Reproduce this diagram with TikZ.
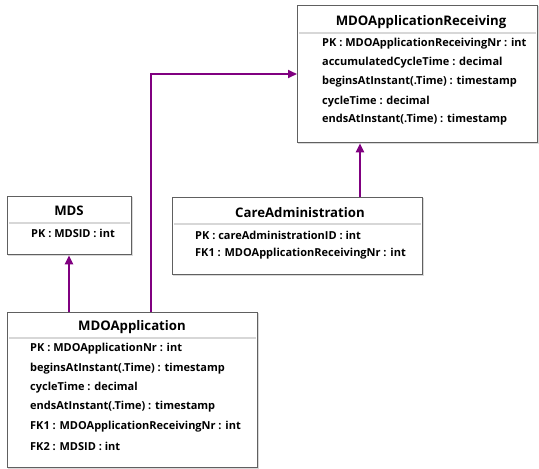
\documentclass[tikz,border=0pt]{standalone}
\usepackage{fontspec}
\setmainfont{Open Sans}
\usetikzlibrary{arrows.meta,calc}
\definecolor{fkpurple}{RGB}{128,0,128}
\definecolor{boxline}{RGB}{96,96,96}
\definecolor{sepline}{RGB}{215,215,215}
\tikzset{
  entity/.style={draw=boxline, line width=1.3pt, fill=white, rectangle, anchor=north west, inner sep=0pt},
  shade/.style={draw=black!15, line width=1.3pt},
  title/.style={font=\fontsize{13.2}{15}\selectfont\bfseries, anchor=center, inner sep=0pt},
  attr/.style={font=\fontsize{11}{13}\selectfont\bfseries, anchor=west, inner sep=0pt},
  sep/.style={draw=sepline, line width=1.6pt},
  conn/.style={draw=fkpurple, line width=2pt, -{Triangle[length=9pt,width=8pt]}}
}
\begin{document}
\begin{tikzpicture}[x=1pt,y=-1pt]
\useasboundingbox (0,0) rectangle (539,469);

% MDOApplicationReceiving
\draw[shade] (298.5,6.5) rectangle (539,143.5);
\node[entity, minimum width=240pt, minimum height=137pt] (rcv) at (297,5) {};
\node[title] (rcvT) at (421,22) {MDOApplicationReceiving};
\draw[sep] ($(rcv.north west)+(2,28)$) -- ($(rcv.north east)+(-2,28)$);
\node[attr] (rcv1) at (322,44) {PK : MDOApplicationReceivingNr : int};
\node[attr] (rcv2) at (322,63) {accumulatedCycleTime : decimal};
\node[attr] (rcv3) at (322,82) {beginsAtInstant(.Time) : timestamp};
\node[attr] (rcv4) at (322,102) {cycleTime : decimal};
\node[attr] (rcv5) at (322,120) {endsAtInstant(.Time) : timestamp};

% MDS
\draw[shade] (8.5,197.5) rectangle (132.5,255.5);
\node[entity, minimum width=124pt, minimum height=58pt] (mds) at (7,196) {};
\node[title] (mdsT) at (69,211) {MDS};
\draw[sep] ($(mds.north west)+(2,27)$) -- ($(mds.north east)+(-2,27)$);
\node[attr] (mds1) at (31,233) {PK : MDSID : int};

% CareAdministration
\draw[shade] (173.5,198.5) rectangle (423.5,275.5);
\node[entity, minimum width=250pt, minimum height=77pt] (care) at (172,197) {};
\node[title] (careT) at (300,213) {CareAdministration};
\draw[sep] ($(care.north west)+(2,27)$) -- ($(care.north east)+(-2,27)$);
\node[attr] (care1) at (195,235) {PK : careAdministrationID : int};
\node[attr] (care2) at (195,254) {FK1 : MDOApplicationReceivingNr : int};

% MDOApplication
\draw[shade] (8.5,313.5) rectangle (258.5,468.5);
\node[entity, minimum width=250pt, minimum height=155pt] (app) at (7,312) {};
\node[title] (appT) at (132,327) {MDOApplication};
\draw[sep] ($(app.north west)+(2,26)$) -- ($(app.north east)+(-2,26)$);
\node[attr] (app1) at (30,349) {PK : MDOApplicationNr : int};
\node[attr] (app2) at (30,369) {beginsAtInstant(.Time) : timestamp};
\node[attr] (app3) at (30,388) {cycleTime : decimal};
\node[attr] (app4) at (30,407) {endsAtInstant(.Time) : timestamp};
\node[attr] (app5) at (30,427) {FK1 : MDOApplicationReceivingNr : int};
\node[attr] (app6) at (30,446) {FK2 : MDSID : int};

% foreign-key connectors
\coordinate (appToMds) at ($(app.north west)+(62,0)$);
\coordinate (appToRcv) at ($(app.north west)+(144,0)$);
\coordinate (careToRcv) at ($(care.north west)+(188,0)$);
\coordinate (rcvIn) at ($(rcv.north west)+(0,69)$);
\draw[conn] (appToMds) -- (appToMds |- mds.south);
\draw[conn] (appToRcv) |- (rcvIn);
\draw[conn] (careToRcv) -- (careToRcv |- rcv.south);
\end{tikzpicture}
\end{document}
